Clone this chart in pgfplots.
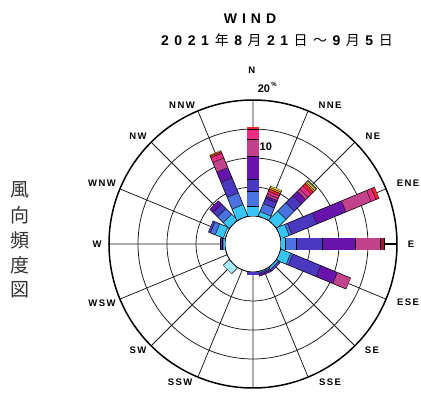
\documentclass[border=0pt]{standalone}
\usepackage{pgfplots}
\pgfplotsset{compat=1.18}
\usepackage{pgfplotstable}
\usepgfplotslibrary{polar}
\usepackage{fontspec}
\setmainfont{Liberation Sans}
\newfontfamily\jp{Noto Sans CJK JP}

\definecolor{cpale}{HTML}{A6ECFF}
\definecolor{ccyan}{HTML}{38C4F5}
\definecolor{cmblue}{HTML}{4A72E0}
\definecolor{cbviol}{HTML}{4A38C0}
\definecolor{cpurp}{HTML}{6814AC}
\definecolor{cmag}{HTML}{C2428C}
\definecolor{cpink}{HTML}{EE2C84}
\definecolor{ccrim}{HTML}{A0163C}
\definecolor{cred}{HTML}{EE2A2A}
\definecolor{corange}{HTML}{FF9020}
\definecolor{cyellow}{HTML}{F2E040}
\definecolor{cgreen}{HTML}{6CB43C}

% frequency (%) per speed class, angle in degrees (0 = E, counter-clockwise)
\pgfplotstableread{
ang   P    C    M    B    U    G    K    X    R    O    Y    N
90    0    1.6  2.6  2.1  3.9  3.0  1.7  0    0.5  0    0    0
67.5  0    0.8  1.5  1.0  0.4  0.4  0.5  0    0.4  0.3  0.3  0
45    0    2.2  2.0  1.7  1.1  0.6  0.8  0    0.5  0.3  0.3  0.2
22.5  0    1.5  0.5  4.7  5.4  4.7  0.9  0    0.6  0    0    0
0     0    0.8  1.9  4.4  5.7  4.3  0    0.8  0    0    0    0
337.5 0    1.8  0.4  5.2  3.1  2.5  0    0    0    0    0    0
315   0    0.4  0    0.4  0    0    0    0    0    0    0    0
292.5 0    0.2  0    0.3  0.3  0    0    0    0    0    0    0
270   0    0    0    0.5  0    0    0    0    0    0    0    0
247.5 0    0    0    0    0    0    0    0    0    0    0    0
225   1.4  0    0    0    0    0    0    0    0    0    0    0
202.5 0    0    0    0    0    0    0    0    0    0    0    0
180   0    0.2  0.2  0.4  0    0    0    0    0    0    0    0
157.5 0.3  1.5  0.9  0.4  0    0    0    0    0    0    0    0
135   0    1.4  1.4  1.1  0.8  0    0    0    0    0    0    0
112.5 0    2.1  2.2  2.8  1.9  1.8  0.9  0    0.3  0.2  0    0
}\windtab

\begin{document}
\begin{tikzpicture}[x=1pt,y=1pt]
\useasboundingbox (-253,-162) rectangle (168,244);

\begin{polaraxis}[
  at={(0,0)}, anchor=origin,
  scale only axis, width=288pt, height=288pt,
  xmin=0, xmax=360, ymin=0, ymax=24.83,
  xtick={0,22.5,...,337.5},
  ytick={4.83,9.83,14.83,19.83},
  xticklabels={}, yticklabels={},
  major tick length=0pt,
  grid=major,
  major grid style={draw=black!90, line width=0.75pt},
  axis line style={line width=1.5pt, black},
  clip=false,
]
\fill[white] (axis cs:0,0) circle [radius=27.6pt];
\draw[black, line width=0.7pt] (axis cs:0,0) circle [radius=28pt];

\foreach \i in {0,...,15}{
  \pgfplotstablegetelem{\i}{ang}\of\windtab
  \xdef\ang{\pgfplotsretval}
  \xdef\rr{4.83}
  \foreach \c/\col in {P/cpale,C/ccyan,M/cmblue,B/cbviol,U/cpurp,G/cmag,K/cpink,X/ccrim,R/cred,O/corange,Y/cyellow,N/cgreen}{
    \pgfplotstablegetelem{\i}{\c}\of\windtab
    \pgfmathsetmacro\len{\pgfplotsretval}
    \ifdim\len pt>0pt
      \pgfmathsetmacro\rend{\rr+\len}
      \pgfmathsetmacro\ra{\rr+0.06}
      \pgfmathsetmacro\rb{\rend-0.06}
      \edef\temp{\noexpand\addplot[draw=black, line width=12.6pt, forget plot] coordinates {(\ang,\rr) (\ang,\rend)};
        \noexpand\addplot[draw=\col, line width=11.2pt, forget plot] coordinates {(\ang,\ra) (\ang,\rb)};}
      \temp
      \xdef\rr{\rend}
    \fi
  }
}
\end{polaraxis}

% titles
\node[font=\bfseries\fontsize{14}{14}\selectfont\addfontfeatures{LetterSpace=36}] at (-3,225) {WIND};
\node[font=\fontsize{14}{14}\selectfont] at (24,204)
  {\textbf{2\kern5.5pt 0\kern5.5pt 2\kern5.5pt 1}\kern6pt{\jp 年}\kern5.5pt\textbf{8}\kern5.5pt{\jp 月}\kern5.5pt\textbf{2\kern5.5pt 1}\kern5.5pt{\jp 日}\kern5.5pt{\jp ～}\kern5.5pt\textbf{9}\kern5.5pt{\jp 月}\kern5.5pt\textbf{5}\kern5.5pt{\jp 日}};

% left vertical caption
\begin{scope}[every node/.style={font=\jp\fontsize{19}{19}\selectfont, text=black!80}]
\node at (-233,54) {風};
\node at (-233,29) {向};
\node at (-233,4) {頻};
\node at (-233,-21) {度};
\node at (-233,-46) {図};
\end{scope}

% radial labels
\node[font=\bfseries\fontsize{11}{11}\selectfont] at (11,155) {20};
\node[font=\bfseries\fontsize{6}{6}\selectfont] at (21,160) {\%};
\node[font=\bfseries\fontsize{11}{11}\selectfont] at (12.8,97.3) {10};

% direction labels
\begin{scope}[every node/.style={font=\bfseries\fontsize{9.5}{9.5}\selectfont\addfontfeatures{LetterSpace=15}}]
\node at (-1.3,174) {N};
\node at (77,139) {NNE};
\node at (120,108) {NE};
\node at (155,61) {ENE};
\node at (158,0) {E};
\node at (155,-58) {ESE};
\node at (119,-106) {SE};
\node at (77,-138) {SSE};
\node at (-1.3,-166) {S};
\node at (-73,-138) {SSW};
\node at (-115,-106) {SW};
\node at (-151,-59) {WSW};
\node at (-156,0) {W};
\node at (-151,61) {WNW};
\node at (-115,108) {NW};
\node at (-71,139) {NNW};
\end{scope}
\end{tikzpicture}
\end{document}
